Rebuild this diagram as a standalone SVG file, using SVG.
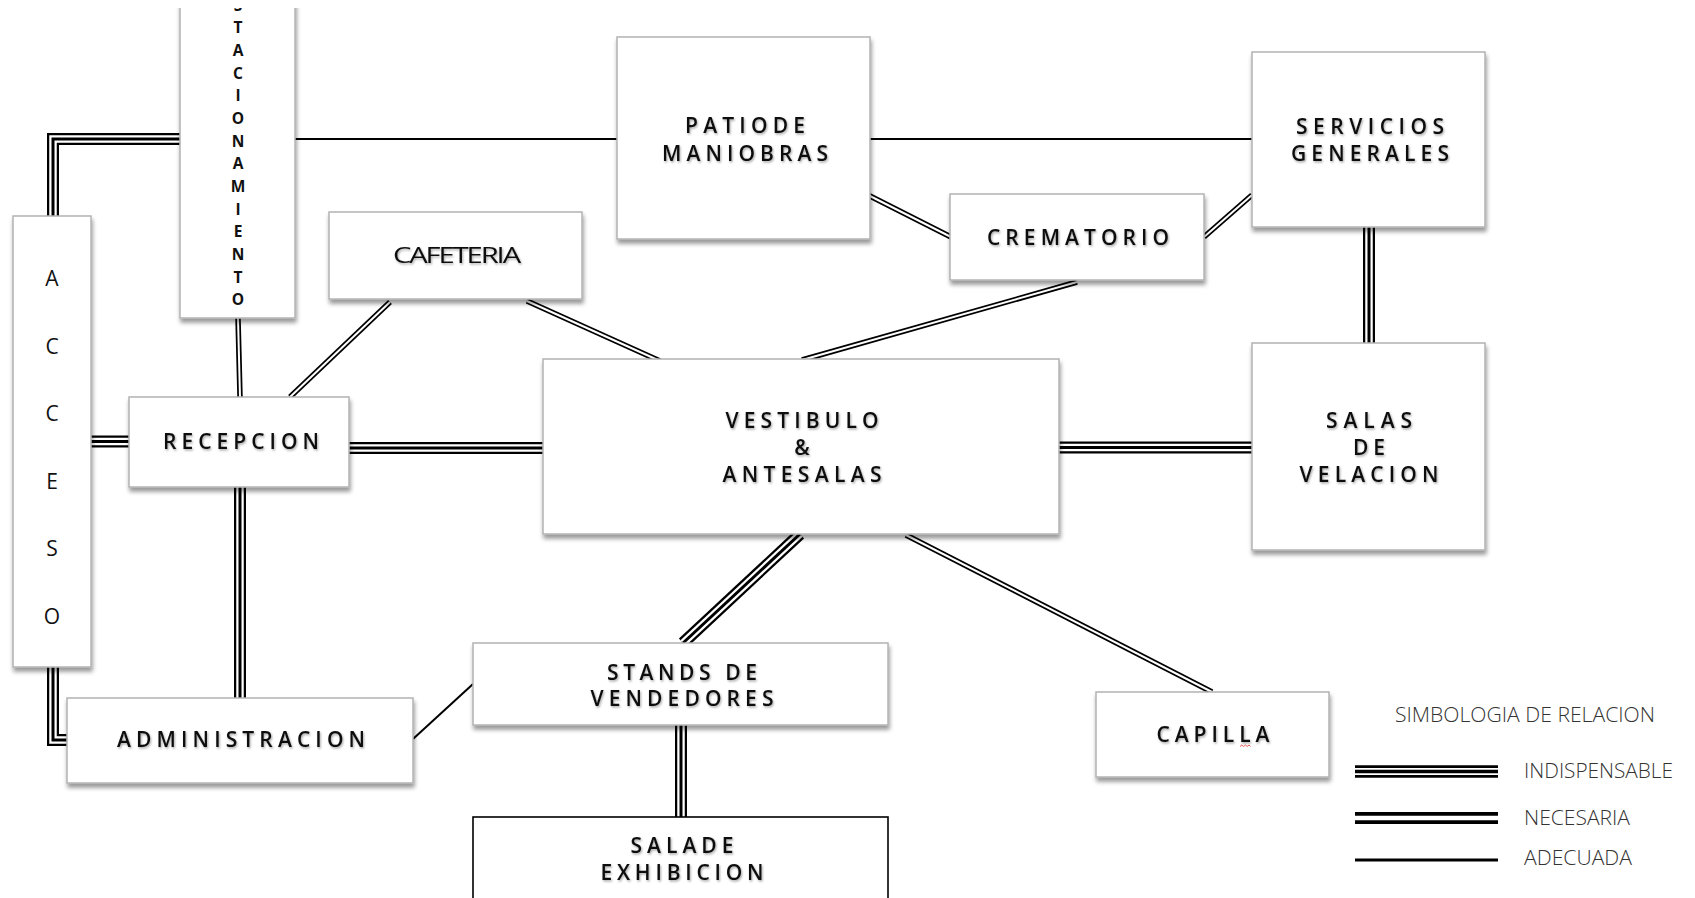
<svg xmlns="http://www.w3.org/2000/svg" width="1695" height="898" viewBox="0 0 1695 898">
<style>
.box{fill:#fff;stroke:#b3b3b3;stroke-width:1.5;filter:url(#sh)}
.lbl{font-family:"Open Sans","DejaVu Sans",sans-serif;font-size:21px;font-weight:600;fill:#111;text-anchor:middle;filter:url(#tsh)}
.vl{font-family:"Open Sans","DejaVu Sans",sans-serif;fill:#111;text-anchor:middle}
.leg{font-family:"Open Sans","DejaVu Sans",sans-serif;font-weight:300;fill:#333}
.ta{fill:none;stroke:#000;stroke-width:12}
.tb{fill:none;stroke:#fff;stroke-width:7.5}
.tc{fill:none;stroke:#000;stroke-width:3}
.da{fill:none;stroke:#000;stroke-width:5.5}
.db{fill:none;stroke:#fff;stroke-width:2}
.s{fill:none;stroke:#000;stroke-width:2}
</style>
<defs>
<filter id="sh" x="-10%" y="-10%" width="125%" height="130%">
<feDropShadow dx="1" dy="4" stdDeviation="2" flood-color="#000" flood-opacity="0.4"/>
</filter>
<filter id="tsh" x="-5%" y="-20%" width="115%" height="150%">
<feDropShadow dx="1" dy="1.5" stdDeviation="0.8" flood-color="#000" flood-opacity="0.35"/>
</filter>
<clipPath id="topclip"><rect x="0" y="8" width="1695" height="890"/></clipPath>
<path id="c1" d="M180 139H53V216"/>
<path id="c2" d="M53 667V740H67"/>
<path id="c3" d="M91 441.5H129"/>
<path id="c4" d="M349 448H543"/>
<path id="c5" d="M1059 447.5H1252"/>
<path id="c6" d="M240 487V698"/>
<path id="c7" d="M681 725V817"/>
<path id="c8" d="M800 534L683 643"/>
<path id="c9" d="M1369 227V343"/>
<path id="d1" d="M238 318L240 397"/>
<path id="d2" d="M390 302L290 397"/>
<path id="d3" d="M527 301L660 361"/>
<path id="d4" d="M1077 282L802 360"/>
<path id="d5" d="M868 195L951 237"/>
<path id="d6" d="M1204 237L1252 195"/>
<path id="d7" d="M906 535L1212 692"/>
</defs>
<rect x="0" y="0" width="1695" height="898" fill="#fff"/>

<g id="connectors">
<g id="indispensable">
<use href="#c1" class="ta"/><use href="#c1" class="tb"/><use href="#c1" class="tc"/>
<use href="#c2" class="ta"/><use href="#c2" class="tb"/><use href="#c2" class="tc"/>
<use href="#c3" class="ta"/><use href="#c3" class="tb"/><use href="#c3" class="tc"/>
<use href="#c4" class="ta"/><use href="#c4" class="tb"/><use href="#c4" class="tc"/>
<use href="#c5" class="ta"/><use href="#c5" class="tb"/><use href="#c5" class="tc"/>
<use href="#c6" class="ta"/><use href="#c6" class="tb"/><use href="#c6" class="tc"/>
<use href="#c7" class="ta"/><use href="#c7" class="tb"/><use href="#c7" class="tc"/>
<use href="#c8" class="ta"/><use href="#c8" class="tb"/><use href="#c8" class="tc"/>
<use href="#c9" class="ta"/><use href="#c9" class="tb"/><use href="#c9" class="tc"/>
</g>
<g id="doubles">
<use href="#d1" class="da"/><use href="#d1" class="db"/>
<use href="#d2" class="da"/><use href="#d2" class="db"/>
<use href="#d3" class="da"/><use href="#d3" class="db"/>
<use href="#d4" class="da"/><use href="#d4" class="db"/>
<use href="#d5" class="da"/><use href="#d5" class="db"/>
<use href="#d6" class="da"/><use href="#d6" class="db"/>
<use href="#d7" class="da"/><use href="#d7" class="db"/>
</g>
<g id="adecuada">
<path class="s" d="M295 139H617"/>
<path class="s" d="M870 139H1252"/>
<path class="s" d="M413 739L473 684"/>
</g>
</g>

<g id="estacionamiento" clip-path="url(#topclip)">
<rect class="box" x="180" y="-40" width="115" height="358"/>
<text class="vl" style="font-size:15.5px;font-weight:700" x="238 238 238 238 238 238 238 238 238 238 238 238 238 238 238" y="-12 10.6 33.3 56 78.6 101.3 124 146.6 169.3 192 214.6 237.3 260 282.6 305.3">ESTACIONAMIENTO</text>
</g>

<g id="acceso">
<rect class="box" x="13" y="216" width="78" height="451"/>
<text class="vl" style="font-size:21px;font-weight:500" x="52 52 52 52 52 52" y="286 353.5 421 488.5 556 623.5">ACCESO</text>
</g>

<g id="patio">
<rect class="box" x="617" y="37" width="253" height="202"/>
<text class="lbl" x="745" y="133" textLength="120">PATIODE</text>
<text class="lbl" x="745" y="161" textLength="166">MANIOBRAS</text>
</g>

<g id="servicios">
<rect class="box" x="1252" y="52" width="233" height="175"/>
<text class="lbl" x="1370" y="134" textLength="148">SERVICIOS</text>
<text class="lbl" x="1370" y="161" textLength="158">GENERALES</text>
</g>

<g id="crematorio">
<rect class="box" x="950" y="194" width="254" height="86"/>
<text class="lbl" x="1078" y="245" textLength="182">CREMATORIO</text>
</g>

<g id="cafeteria">
<rect class="box" x="329" y="212" width="253" height="87"/>
<text class="lbl" x="456" y="263" textLength="126" lengthAdjust="spacingAndGlyphs" style="letter-spacing:-1.5px;font-weight:500">CAFETERIA</text>
</g>

<g id="recepcion">
<rect class="box" x="129" y="397" width="220" height="90"/>
<text class="lbl" x="241" y="449" textLength="156">RECEPCION</text>
</g>

<g id="vestibulo">
<rect class="box" x="543" y="359" width="516" height="175"/>
<text class="lbl" x="802" y="428" textLength="153">VESTIBULO</text>
<text class="lbl" x="802" y="455">&amp;</text>
<text class="lbl" x="802" y="482" textLength="159">ANTESALAS</text>
</g>

<g id="salas">
<rect class="box" x="1252" y="343" width="233" height="207"/>
<text class="lbl" x="1369" y="428" textLength="86">SALAS</text>
<text class="lbl" x="1369" y="455" textLength="32">DE</text>
<text class="lbl" x="1369" y="482" textLength="139">VELACION</text>
</g>

<g id="administracion">
<rect class="box" x="67" y="698" width="346" height="85"/>
<text class="lbl" x="241" y="747" textLength="248">ADMINISTRACION</text>
</g>

<g id="stands">
<rect class="box" x="473" y="643" width="415" height="82"/>
<text class="lbl" x="682" y="680" textLength="150">STANDS DE</text>
<text class="lbl" x="682" y="706" textLength="183">VENDEDORES</text>
</g>

<g id="sala-exhibicion">
<rect x="473" y="817" width="415" height="110" fill="#fff" stroke="#000" stroke-width="1.6"/>
<text class="lbl" x="682" y="853" textLength="103">SALADE</text>
<text class="lbl" x="682" y="880" textLength="163">EXHIBICION</text>
</g>

<g id="capilla">
<rect class="box" x="1096" y="692" width="233" height="85"/>
<text class="lbl" x="1213" y="742" textLength="113">CAPILLA</text>
<path d="M1240 746.5l1.8-1.5 1.8 1.5 1.8-1.5 1.8 1.5 1.8-1.5 1.5 1.5" fill="none" stroke="#e03030" stroke-width="0.8"/>
</g>

<g id="legend">
<text class="leg" x="1395" y="722" style="font-size:19.5px" textLength="260" lengthAdjust="spacingAndGlyphs">SIMBOLOGIA DE RELACION</text>
<path d="M1355 771.5H1498" fill="none" stroke="#000" stroke-width="12.5"/>
<path d="M1355 771.5H1498" fill="none" stroke="#fff" stroke-width="7"/>
<path d="M1355 771.5H1498" fill="none" stroke="#000" stroke-width="3.5"/>
<text class="leg" x="1524" y="778" style="font-size:21px" textLength="149" lengthAdjust="spacingAndGlyphs">INDISPENSABLE</text>
<path d="M1355 818H1498" fill="none" stroke="#000" stroke-width="12"/>
<path d="M1355 818H1498" fill="none" stroke="#fff" stroke-width="4.5"/>
<text class="leg" x="1524" y="825" style="font-size:21px" textLength="106" lengthAdjust="spacingAndGlyphs">NECESARIA</text>
<path d="M1355 860H1498" fill="none" stroke="#000" stroke-width="3"/>
<text class="leg" x="1524" y="865" style="font-size:21px" textLength="108" lengthAdjust="spacingAndGlyphs">ADECUADA</text>
</g>
</svg>
